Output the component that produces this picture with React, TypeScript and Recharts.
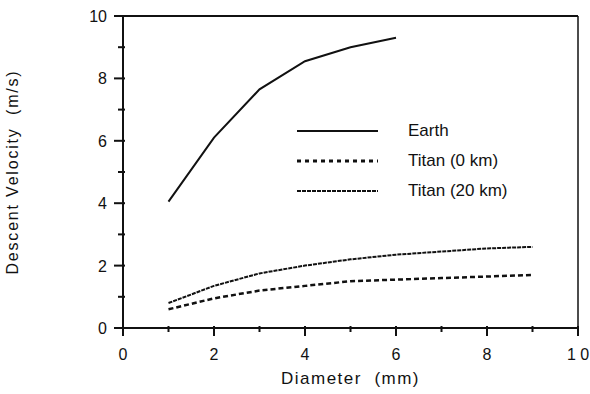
import { LineChart, Line, XAxis, YAxis, ReferenceLine } from "recharts";

const diameters = [1, 2, 3, 4, 5, 6, 7, 8, 9];
const earth = [4.05, 6.1, 7.65, 8.55, 9.0, 9.3];
const titan0 = [0.6, 0.95, 1.2, 1.35, 1.5, 1.55, 1.6, 1.65, 1.7];
const titan20 = [0.8, 1.35, 1.75, 2.0, 2.2, 2.35, 2.45, 2.55, 2.6];
const allTicks = [0, 1, 2, 3, 4, 5, 6, 7, 8, 9, 10];
const xTickLabels = ["0", "2", "4", "6", "8", "1 0"];
const yTickLabels = ["0", "2", "4", "6", "8", "10"];

const data = diameters.map((d, i) => ({
  d,
  earth: earth[i],
  titan0: titan0[i],
  titan20: titan20[i],
}));

const FONT = "'Liberation Sans', Arial, sans-serif";
const INK = "#111";

const XTick = (props: any) => {
  const { x, y, payload } = props;
  const v = payload.value as number;
  const major = v % 2 === 0;
  return (
    <g>
      <line x1={x} x2={x} y1={y - 2} y2={y + (major ? 8 : 4)} stroke={INK} strokeWidth={2} />
      {major && (
        <text x={x} y={y + 32} textAnchor="middle" fontSize={16} fontFamily={FONT} fill={INK}>
          {xTickLabels[v / 2]}
        </text>
      )}
    </g>
  );
};

const YTick = (props: any) => {
  const { x, y, payload } = props;
  const v = payload.value as number;
  const major = v % 2 === 0;
  return (
    <g>
      <line x1={x - (major ? 9 : 5)} x2={x + 2} y1={y} y2={y} stroke={INK} strokeWidth={2} />
      {major && (
        <text x={x - 16} y={y + 6} textAnchor="end" fontSize={16} fontFamily={FONT} fill={INK}>
          {yTickLabels[v / 2]}
        </text>
      )}
    </g>
  );
};

const XLabel = (props: any) => {
  const vb = props.viewBox;
  return (
    <text
      x={vb.x + vb.width / 2}
      y={vb.y + 56}
      textAnchor="middle"
      fontSize={17}
      fontFamily={FONT}
      fill={INK}
      letterSpacing={1.5}
      style={{ whiteSpace: "pre" }}
    >
      {"Diameter  (mm)"}
    </text>
  );
};

const YLabel = (props: any) => {
  const vb = props.viewBox;
  const cx = vb.x + 18;
  const cy = vb.y + vb.height / 2;
  return (
    <text
      x={cx}
      y={cy}
      transform={`rotate(-90, ${cx}, ${cy})`}
      textAnchor="middle"
      fontSize={16}
      fontFamily={FONT}
      fill={INK}
      letterSpacing={1.8}
      style={{ whiteSpace: "pre" }}
    >
      {"Descent Velocity  (m/s)"}
    </text>
  );
};

const legendItems = [
  { name: "Earth", dash: undefined as string | undefined, width: 2 },
  { name: "Titan (0 km)", dash: "4 4", width: 3 },
  { name: "Titan (20 km)", dash: "4 1", width: 2 },
];

export default function App() {
  return (
    <div style={{ position: "absolute", left: 0, top: 0, width: 590, height: 394, background: "#fff" }}>
      <LineChart
        width={590}
        height={394}
        data={data}
        margin={{ top: 16, right: 12, bottom: 0, left: 0 }}
      >
        <XAxis
          dataKey="d"
          type="number"
          domain={[0, 10]}
          ticks={allTicks}
          interval={0}
          tickSize={0}
          tickMargin={0}
          height={66}
          tick={<XTick />}
          axisLine={{ stroke: INK, strokeWidth: 2 }}
          label={<XLabel />}
        />
        <YAxis
          type="number"
          domain={[0, 10]}
          ticks={allTicks}
          interval={0}
          tickSize={0}
          tickMargin={0}
          width={123}
          tick={<YTick />}
          axisLine={{ stroke: INK, strokeWidth: 2 }}
          label={<YLabel />}
        />
        <ReferenceLine y={10} stroke={INK} strokeWidth={2} />
        <ReferenceLine x={10} stroke={INK} strokeWidth={1.5} />
        <Line
          dataKey="earth"
          stroke={INK}
          strokeWidth={2}
          dot={false}
          isAnimationActive={false}
        />
        <Line
          dataKey="titan0"
          stroke={INK}
          strokeWidth={2.5}
          strokeDasharray="5 3"
          dot={false}
          isAnimationActive={false}
        />
        <Line
          dataKey="titan20"
          stroke={INK}
          strokeWidth={2}
          strokeDasharray="4 1"
          dot={false}
          isAnimationActive={false}
        />
      </LineChart>
      <div
        style={{
          position: "absolute",
          left: 297,
          top: 116,
          fontFamily: FONT,
          fontSize: 17,
          color: INK,
        }}
      >
        {legendItems.map((it) => (
          <div key={it.name} style={{ display: "flex", alignItems: "center", height: 30 }}>
            <svg width={111} height={10} style={{ flex: "none" }}>
              <line
                x1={0}
                x2={81}
                y1={5}
                y2={5}
                stroke={INK}
                strokeWidth={it.width}
                strokeDasharray={it.dash}
              />
            </svg>
            <span style={{ whiteSpace: "nowrap" }}>{it.name}</span>
          </div>
        ))}
      </div>
    </div>
  );
}
